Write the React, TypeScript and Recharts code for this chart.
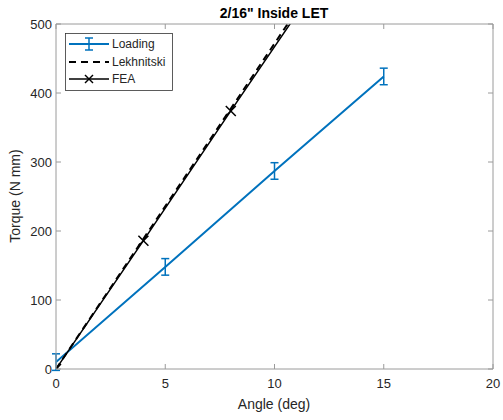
import React from 'react';
import { LineChart, Line, XAxis, YAxis, ErrorBar } from 'recharts';

// measured loading data (mean +/- error)
const loadAngle = [0, 5, 10, 15];
const loadTorque = [10, 148, 287, 424];
const loadErr = [12, 12, 12, 12];

// Lekhnitski prediction
const lekAngle = [0, 12];
const lekTorque = [0, 566];

// FEA results
const feaAngle = [0, 4, 8, 12];
const feaTorque = [0, 186, 374, 560];

const xTicks = [0, 5, 10, 15, 20];
const yTicks = [0, 100, 200, 300, 400, 500];

const loading = loadAngle.map((a, i) => ({ angle: a, torque: loadTorque[i], err: loadErr[i] }));
const lekhnitski = lekAngle.map((a, i) => ({ angle: a, torque: lekTorque[i] }));
const fea = feaAngle.map((a, i) => ({ angle: a, torque: feaTorque[i] }));

const BLUE = '#0072BD';
const AXIS = '#9a9a9a';
const TEXT = '#262626';
const FONT = 'Liberation Sans, Arial, sans-serif';

const BottomTick = ({ x, y, payload }: any) => (
  <g>
    <line x1={x} y1={y} x2={x} y2={y - 5} stroke={AXIS} />
    <text x={x} y={y + 19} textAnchor="middle" fontSize={13} fill={TEXT} fontFamily={FONT}>
      {payload.value}
    </text>
  </g>
);

const LeftTick = ({ x, y, payload }: any) => (
  <g>
    <line x1={x} y1={y} x2={x + 5} y2={y} stroke={AXIS} />
    <text x={x - 4} y={y + 5} textAnchor="end" fontSize={13} fill={TEXT} fontFamily={FONT}>
      {payload.value}
    </text>
  </g>
);

const TopTick = ({ x, y }: any) => <line x1={x} y1={y} x2={x} y2={y + 5} stroke={AXIS} />;
const RightTick = ({ x, y }: any) => <line x1={x} y1={y} x2={x - 5} y2={y} stroke={AXIS} />;

const XMark = ({ cx, cy }: any) => {
  if (cx == null || cy == null) return null;
  const s = 5;
  return (
    <g stroke="#000" strokeWidth={1.5}>
      <line x1={cx - s} y1={cy - s} x2={cx + s} y2={cy + s} />
      <line x1={cx - s} y1={cy + s} x2={cx + s} y2={cy - s} />
    </g>
  );
};

const LegendBox = () => (
  <svg width={108} height={58} style={{ display: 'block' }}>
    <rect x={0.5} y={0.5} width={107} height={57} fill="#fff" stroke="#333" strokeWidth={0.8} />
    <g fontFamily={FONT} fontSize={12} fill={TEXT}>
      <line x1={4} y1={11} x2={44} y2={11} stroke={BLUE} strokeWidth={2} />
      <line x1={24} y1={5} x2={24} y2={17} stroke={BLUE} strokeWidth={1.5} />
      <line x1={20} y1={5} x2={28} y2={5} stroke={BLUE} strokeWidth={1.5} />
      <line x1={20} y1={17} x2={28} y2={17} stroke={BLUE} strokeWidth={1.5} />
      <text x={47} y={15}>Loading</text>
      <line x1={4} y1={29} x2={44} y2={29} stroke="#000" strokeWidth={2} strokeDasharray="7 5" />
      <text x={47} y={33}>Lekhnitski</text>
      <line x1={4} y1={46} x2={44} y2={46} stroke="#000" strokeWidth={1.5} />
      <line x1={20} y1={42} x2={28} y2={50} stroke="#000" strokeWidth={1.5} />
      <line x1={20} y1={50} x2={28} y2={42} stroke="#000" strokeWidth={1.5} />
      <text x={47} y={50}>FEA</text>
    </g>
  </svg>
);

export default function App() {
  return (
    <div style={{ position: 'absolute', left: 0, top: 0, width: 503, height: 420, background: '#fff' }}>
      <LineChart width={503} height={420} margin={{ top: 23, right: 9, bottom: 0, left: 0 }}>
        <XAxis
          xAxisId="b"
          dataKey="angle"
          type="number"
          domain={[0, 20]}
          ticks={xTicks}
          allowDataOverflow
          height={51}
          tickSize={0}
          tickMargin={0}
          tickLine={false}
          stroke={AXIS}
          tick={<BottomTick />}
        />
        <XAxis
          xAxisId="t"
          orientation="top"
          dataKey="angle"
          type="number"
          domain={[0, 20]}
          ticks={xTicks}
          allowDataOverflow
          height={1}
          tickSize={0}
          tickMargin={0}
          tickLine={false}
          stroke={AXIS}
          tick={<TopTick />}
        />
        <YAxis
          yAxisId="l"
          type="number"
          domain={[0, 500]}
          ticks={yTicks}
          allowDataOverflow
          width={56}
          tickSize={0}
          tickMargin={0}
          tickLine={false}
          stroke={AXIS}
          tick={<LeftTick />}
        />
        <YAxis
          yAxisId="r"
          orientation="right"
          type="number"
          domain={[0, 500]}
          ticks={yTicks}
          allowDataOverflow
          width={1}
          tickSize={0}
          tickMargin={0}
          tickLine={false}
          stroke={AXIS}
          tick={<RightTick />}
        />
        {/* invisible series so the top/right box axes get drawn */}
        <Line
          xAxisId="t"
          yAxisId="r"
          data={loading}
          dataKey="torque"
          stroke="none"
          dot={false}
          activeDot={false}
          isAnimationActive={false}
        />
        <Line
          xAxisId="b"
          yAxisId="l"
          data={loading}
          dataKey="torque"
          stroke={BLUE}
          strokeWidth={2}
          dot={false}
          isAnimationActive={false}
        >
          <ErrorBar dataKey="err" direction="y" width={4} stroke={BLUE} strokeWidth={1.5} />
        </Line>
        <Line
          xAxisId="b"
          yAxisId="l"
          data={lekhnitski}
          dataKey="torque"
          stroke="#000"
          strokeWidth={2}
          strokeDasharray="7 5"
          dot={false}
          isAnimationActive={false}
        />
        <Line
          xAxisId="b"
          yAxisId="l"
          data={fea}
          dataKey="torque"
          stroke="#000"
          strokeWidth={1.5}
          dot={<XMark />}
          isAnimationActive={false}
        />
      </LineChart>
      <div style={{ position: 'absolute', left: 65, top: 33 }}>
        <LegendBox />
      </div>
      <svg width={503} height={420} style={{ position: 'absolute', left: 0, top: 0, pointerEvents: 'none' }}>
        <text x={274} y={18} textAnchor="middle" fontSize={14} fontWeight="bold" fill="#000" fontFamily={FONT}>
          2/16" Inside LET
        </text>
        <text x={274} y={409} textAnchor="middle" fontSize={14} fill={TEXT} fontFamily={FONT}>
          Angle (deg)
        </text>
        <text
          x={20}
          y={196}
          textAnchor="middle"
          fontSize={14}
          fill={TEXT}
          fontFamily={FONT}
          transform="rotate(-90 20 196)"
        >
          Torque (N mm)
        </text>
      </svg>
    </div>
  );
}
